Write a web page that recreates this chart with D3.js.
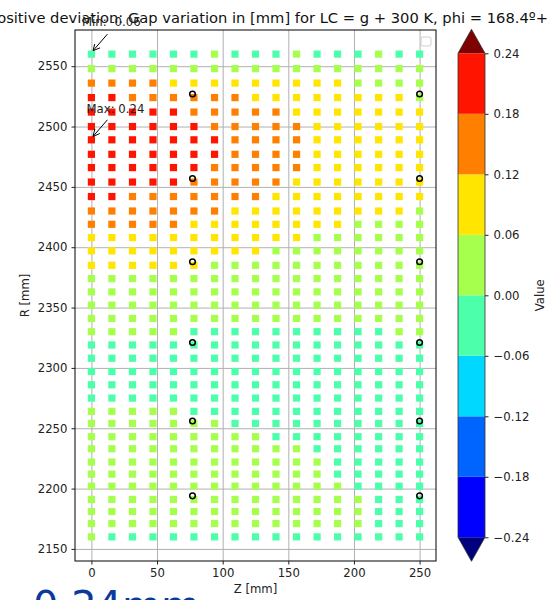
<!DOCTYPE html>
<html>
<head>
<meta charset="utf-8">
<script src="https://cdn.jsdelivr.net/npm/d3@7"></script>
<style>
  body { margin: 0; background: #fff; overflow: hidden; }
  svg { display: block; font-family: "DejaVu Sans", sans-serif; }
</style>
</head>
<body>
<div id="chart"></div>
<script>
// Column positions (Z, mm) and row positions (R, mm)
const zValues = [0, 15.6, 31.3, 46.9, 62.5, 78.1, 93.8, 109.4, 125, 140.6, 156.3, 171.9, 187.5, 203.1, 218.8, 234.4, 250]
const rValues = [2560, 2548, 2536, 2524, 2512, 2500, 2489, 2477, 2466, 2454, 2442, 2430, 2419,
  2408, 2397, 2385, 2374, 2363, 2352, 2341, 2330, 2319, 2308, 2297, 2286, 2275, 2264, 2254,
  2243, 2233, 2222, 2212, 2202, 2191, 2181, 2171, 2160]

// Gap value per cell, one string per row (top to bottom), one letter per column
const gridCodes = [
  'GGGGGGLGGGLGGGLGG',
  'LLLLLLLLLLLLLLLLL',
  'OOOOYYYYYYYYYLLLL',
  'RROOOOOOYYYYYYYYL',
  'RRRRROOOOOYYYYYYY',
  'RRRRRROOOOOYYYYYY',
  'RRRRRRROOOOYYYYYY',
  'RRRRRRROOOOYYYYYY',
  'RRRRRROOOOOYYYYYY',
  'RRRRROOOOOYYYYYYY',
  'RROOOOOOOYYYYYYYY',
  'OOOOOOOYYYYYYYYYL',
  'OOOOOYYYYYYYYLLLL',
  'YYYYYYYYYYYLLLLLL',
  'YYYYYYYYYLLLLLLLL',
  'YYYYYYLLLLLLLLLLL',
  'LLLLLLLLLLLLLLLLL',
  'LLLLLLLLLLLLLLLLL',
  'LLLLLLLLLLLLLLLLL',
  'LLLLLLLLLLLLLLLLL',
  'LLLLLGGGGGGGGGGLL',
  'GGGGGGGGGGGGGGGGG',
  'GGGGGGGGGGGGGGGGG',
  'GGGGGGGGGGGGGGGGG',
  'GGGGGGGGGGGGGGGGG',
  'GGGGGGGGGGGGGGGGG',
  'LLLLLGGGGGGGGGGGG',
  'LLLLLLLGGGGGGGGGG',
  'LLLLLLLLLGGGGGGGG',
  'LLLLLLLLLLLGGGGGG',
  'LLLLLLLLLLLLGGGGG',
  'LLLLLLLLLLLLGGGGG',
  'LLLLLLLLLLLLLGGGG',
  'LLLLLLLLLLLLLLGGG',
  'LLLLLLLLLLLLLLGGG',
  'LLLLLLLLLLLLLLGGG',
  'LGGGGGGGGGGGGGGGG'
]
const codeValues = { G: -0.03, L: 0.03, Y: 0.09, O: 0.15, R: 0.21 }

// Measurement points (open circles)
const markerZ = [77, 77, 77, 77, 77, 77, 250, 250, 250, 250, 250, 250]
const markerR = [2527, 2457, 2388, 2321, 2256, 2194, 2527, 2457, 2388, 2321, 2256, 2194]

// Colour levels
const levelBounds = [-0.24, -0.18, -0.12, -0.06, 0.00, 0.06, 0.12, 0.18, 0.24]
const levelColors = ['#0000ff', '#0064ff', '#00d8ff', '#4cffaa', '#a6ff4d', '#ffe500', '#ff7f00', '#ff1400']
const underColor = '#00007f'
const overColor = '#7f0000'

const xTicks = [0, 50, 100, 150, 200, 250]
const yTicks = [2150, 2200, 2250, 2300, 2350, 2400, 2450, 2500, 2550]

const annotations = [
  { label: 'Min: -0.06', z: 0, r: 2560, tx: 82, ty: 25.5 },
  { label: 'Max: 0.24', z: 0, r: 2489, tx: 86.5, ty: 113.3 }
]

const titleText = 'Positive deviation: Gap variation in [mm] for LC = g + 300 K, phi = 168.4º+'

// Layout
const width = 550
const height = 600
const plot = { left: 75, right: 436, top: 30, bottom: 561 }
const bar = { left: 458, right: 485, top: 53.3, bottom: 537.3, tip: 24 }
const fontSize = 11.7

const svg = d3.select('#chart').append('svg')
  .attr('width', width)
  .attr('height', height)

const x = d3.scaleLinear([-12.5, 262.5], [plot.left, plot.right])
const y = d3.scaleLinear([2140, 2580], [plot.bottom, plot.top])
const color = d3.scaleThreshold(levelBounds.slice(1, -1), levelColors)

// Grid lines
svg.append('g')
  .attr('transform', `translate(0,${plot.bottom})`)
  .call(d3.axisBottom(x).tickValues(xTicks).tickSize(-(plot.bottom - plot.top)).tickFormat(''))
  .call(g => g.select('.domain').remove())
  .call(g => g.selectAll('line').attr('stroke', '#b0b0b0').attr('stroke-width', 1))
svg.append('g')
  .attr('transform', `translate(${plot.left},0)`)
  .call(d3.axisLeft(y).tickValues(yTicks).tickSize(-(plot.right - plot.left)).tickFormat(''))
  .call(g => g.select('.domain').remove())
  .call(g => g.selectAll('line').attr('stroke', '#b0b0b0').attr('stroke-width', 1))

// Cells
const cells = []
gridCodes.forEach((row, j) => {
  row.split('').forEach((code, i) => {
    cells.push({ z: zValues[i], r: rValues[j], v: codeValues[code] })
  })
})
const cellSize = 7.2
svg.append('g').selectAll('rect')
  .data(cells)
  .join('rect')
    .attr('x', d => x(d.z) - cellSize / 2)
    .attr('y', d => y(d.r) - cellSize / 2)
    .attr('width', cellSize)
    .attr('height', cellSize)
    .attr('fill', d => color(d.v))

// Markers
svg.append('g').selectAll('circle')
  .data(markerZ.map((z, i) => ({ z, r: markerR[i] })))
  .join('circle')
    .attr('cx', d => x(d.z))
    .attr('cy', d => y(d.r))
    .attr('r', 2.8)
    .attr('fill', 'none')
    .attr('stroke', '#000')
    .attr('stroke-width', 1.5)

// Empty legend frame
svg.append('rect')
  .attr('x', 421).attr('y', 37).attr('width', 10).attr('height', 9).attr('rx', 2)
  .attr('fill', '#fff').attr('stroke', '#d0d0d0').attr('stroke-width', 1)

// Frame
svg.append('rect')
  .attr('x', plot.left).attr('y', plot.top)
  .attr('width', plot.right - plot.left).attr('height', plot.bottom - plot.top)
  .attr('fill', 'none').attr('stroke', '#000').attr('stroke-width', 1)

// Axes
const styleAxis = g => {
  g.select('.domain').remove()
  g.selectAll('text').attr('font-size', fontSize).attr('fill', '#222').attr('font-family', '"DejaVu Sans", sans-serif')
  g.selectAll('line').attr('stroke', '#222')
}
svg.append('g')
  .attr('transform', `translate(0,${plot.bottom})`)
  .call(d3.axisBottom(x).tickValues(xTicks).tickSize(3.5).tickPadding(4).tickFormat(d3.format('d')))
  .call(styleAxis)
svg.append('g')
  .attr('transform', `translate(${plot.left},0)`)
  .call(d3.axisLeft(y).tickValues(yTicks).tickSize(3.5).tickPadding(4).tickFormat(d3.format('d')))
  .call(styleAxis)

svg.append('text')
  .attr('x', (plot.left + plot.right) / 2).attr('y', 593)
  .attr('text-anchor', 'middle').attr('font-size', fontSize).attr('fill', '#222')
  .text('Z [mm]')
svg.append('text')
  .attr('transform', `translate(29,${(plot.top + plot.bottom) / 2}) rotate(-90)`)
  .attr('text-anchor', 'middle').attr('font-size', fontSize).attr('fill', '#222')
  .text('R [mm]')

// Title (clipped by the page like the original)
svg.append('text')
  .attr('x', 548).attr('y', 23)
  .attr('text-anchor', 'end').attr('font-size', 14.7).attr('fill', '#111')
  .text(titleText)

// Annotations
svg.append('defs').append('marker')
  .attr('id', 'head').attr('viewBox', '0 0 10 10').attr('refX', 10).attr('refY', 5)
  .attr('markerWidth', 7).attr('markerHeight', 7).attr('markerUnits', 'userSpaceOnUse')
  .attr('orient', 'auto')
  .append('path').attr('d', 'M0,0L10,5L0,10').attr('fill', 'none').attr('stroke', '#000').attr('stroke-width', 1.3)

annotations.forEach(a => {
  const px = x(a.z), py = y(a.r)
  svg.append('line')
    .attr('x1', px + 16).attr('y1', py - 20)
    .attr('x2', px + 1.6).attr('y2', py - 3.4)
    .attr('stroke', '#000').attr('stroke-width', 1)
    .attr('marker-end', 'url(#head)')
  svg.append('text')
    .attr('x', a.tx).attr('y', a.ty)
    .attr('font-size', fontSize).attr('fill', '#222')
    .text(a.label)
})

// Colorbar
const cb = d3.scaleLinear([levelBounds[0], levelBounds[levelBounds.length - 1]], [bar.bottom, bar.top])
const cbar = svg.append('g')
cbar.selectAll('rect')
  .data(d3.pairs(levelBounds))
  .join('rect')
    .attr('x', bar.left)
    .attr('y', d => cb(d[1]))
    .attr('width', bar.right - bar.left)
    .attr('height', d => cb(d[0]) - cb(d[1]))
    .attr('fill', d => color((d[0] + d[1]) / 2))
const midX = (bar.left + bar.right) / 2
cbar.append('path')
  .attr('d', `M${bar.left},${bar.top}L${midX},${bar.top - bar.tip}L${bar.right},${bar.top}Z`)
  .attr('fill', overColor)
cbar.append('path')
  .attr('d', `M${bar.left},${bar.bottom}L${midX},${bar.bottom + bar.tip}L${bar.right},${bar.bottom}Z`)
  .attr('fill', underColor)
cbar.append('path')
  .attr('d', `M${bar.left},${bar.top}L${midX},${bar.top - bar.tip}L${bar.right},${bar.top}` +
    `L${bar.right},${bar.bottom}L${midX},${bar.bottom + bar.tip}L${bar.left},${bar.bottom}Z`)
  .attr('fill', 'none').attr('stroke', '#333').attr('stroke-width', 0.8)

svg.append('g')
  .attr('transform', `translate(${bar.right},0)`)
  .call(d3.axisRight(cb).tickValues(levelBounds).tickSize(3.5).tickPadding(5).tickFormat(d3.format('.2f')))
  .call(styleAxis)

svg.append('text')
  .attr('transform', `translate(544,${(bar.top + bar.bottom) / 2}) rotate(-90)`)
  .attr('text-anchor', 'middle').attr('font-size', fontSize).attr('fill', '#222')
  .text('Value')

// Big value readout at the bottom
svg.append('text')
  .attr('x', 33).attr('y', 620)
  .attr('font-size', 40).attr('fill', '#0a3a9c')
  .text('0.24mm')
</script>
</body>
</html>
